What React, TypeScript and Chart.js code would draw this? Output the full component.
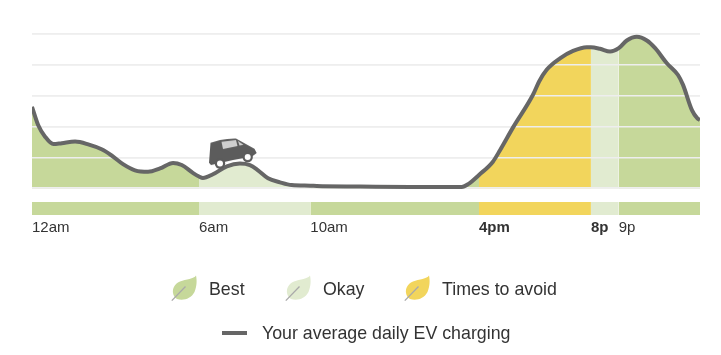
import React, { useEffect, useRef } from "react";
import { Chart, registerables } from "chart.js";

Chart.register(...registerables);

// Data
const hours = [0, 0.22, 0.47, 0.77, 1.07, 1.55, 2.02, 2.5, 2.86, 3.27, 3.7, 4.17, 4.6, 5.07, 5.38, 5.79, 6, 6.14, 6.5, 7, 7.47, 7.83, 8.12, 8.48, 8.91, 9.33, 10, 10.23, 11.79, 13.58, 15.44, 15.67, 16.06, 16.56, 16.82, 17.29, 18.0, 18.22, 18.49, 18.97, 19.44, 19.93, 20.08, 20.41, 20.77, 21.08, 21.37, 21.73, 22.09, 22.39, 22.81, 23.21, 23.39, 23.71, 23.9, 24];
const charging = [2.64, 2.05, 1.67, 1.43, 1.46, 1.51, 1.42, 1.26, 1.06, 0.78, 0.58, 0.53, 0.64, 0.82, 0.75, 0.49, 0.38, 0.33, 0.45, 0.71, 0.8, 0.75, 0.58, 0.32, 0.19, 0.1, 0.08, 0.07, 0.055, 0.04, 0.04, 0.13, 0.43, 0.86, 1.24, 1.98, 3.03, 3.46, 3.84, 4.21, 4.45, 4.57, 4.57, 4.52, 4.43, 4.54, 4.79, 4.91, 4.79, 4.54, 4.05, 3.67, 3.35, 2.53, 2.27, 2.21];
const zoneStarts = [0, 6, 10, 16.06, 20.08, 21.08];
const zoneEnds = [6, 10, 16.06, 20.08, 21.08, 24];
const zoneKinds = ["best", "okay", "best", "avoid", "okay", "best"];
const tickHours = [0, 6, 10, 16.06, 20.08, 21.08];
const tickLabels = ["12am", "6am", "10am", "4pm", "8p", "9p"];
const tickBold = [false, false, false, true, true, false];
const gridValues = [0, 1, 2, 3, 4, 5];
const carHour = [7.22];
const carValue = [1.14];
const legendLabels = ["Best", "Okay", "Times to avoid"];
const legendKinds = ["best", "okay", "avoid"];
const lineLabel = "Your average daily EV charging";

// Styles
const COLORS: Record<string, string> = { best: "#c6d89a", okay: "#e1ebd0", avoid: "#f2d55c" };
const LINE = "#666666";
const TEXT = "#333333";
const FONT = '"Liberation Sans", Arial, sans-serif';
const Y_MIN = -0.87;
const BAND_TOP = -0.45;
const leafLefts = [171, 285, 404];
const textLefts = [209, 323, 442];

function makeCar() {
  const c = document.createElement("canvas");
  c.width = 56;
  c.height = 36;
  const g = c.getContext("2d")!;
  g.translate(-205, -135);
  g.fillStyle = "#5c5c5c";
  g.beginPath();
  g.moveTo(210.5, 142.7);
  g.lineTo(220, 140);
  g.quadraticCurveTo(228, 138.2, 236, 138.4);
  g.lineTo(254.5, 148.8);
  g.lineTo(256.7, 153);
  g.lineTo(252, 156.5);
  g.lineTo(233, 160);
  g.lineTo(211, 165);
  g.lineTo(209, 162.7);
  g.closePath();
  g.fill();
  g.fillStyle = "#cfcfcf";
  g.beginPath();
  g.moveTo(221.5, 141.7);
  g.lineTo(236, 140);
  g.lineTo(237.5, 146);
  g.lineTo(223, 149);
  g.closePath();
  g.fill();
  g.beginPath();
  g.moveTo(238, 141);
  g.lineTo(243.5, 144.8);
  g.lineTo(239.5, 145.5);
  g.closePath();
  g.fill();
  for (const [x, y] of [[220, 163.5], [247.7, 157]]) {
    g.fillStyle = "#5c5c5c";
    g.beginPath();
    g.arc(x, y, 5.2, 0, Math.PI * 2);
    g.fill();
    g.fillStyle = "#ffffff";
    g.beginPath();
    g.arc(x, y, 3, 0, Math.PI * 2);
    g.fill();
  }
  return c;
}

const gridOverFill = {
  id: "gridOverFill",
  beforeDatasetDraw(chart: any, args: any) {
    if (args.index === 1) chart.scales.y.drawGrid(chart.chartArea);
  },
};

function Leaf({ color, left }: { color: string; left: number }) {
  return (
    <svg width="27" height="27" viewBox="0 0 27 27" style={{ position: "absolute", left, top: 275 }}>
      <path d="M25 0.5 C23 4 15 4 9 6.5 C3 9 1.5 14 2 18 C2.5 21 4 23 6 24 C12 26 20 24 23.5 17 C26 11 26 5 25 0.5Z" fill={color} />
      <path d="M0.8 25.6 L14.5 11.5" stroke="#a9a9a9" strokeWidth="1.3" fill="none" />
    </svg>
  );
}

export default function App() {
  const ref = useRef<HTMLCanvasElement>(null);

  useEffect(() => {
    const points = hours.map((x, i) => ({ x, y: charging[i] }));
    const areas = zoneStarts.map((s, i) => ({
      type: "line" as const,
      data: points.filter((p) => p.x >= s && p.x <= zoneEnds[i]),
      borderWidth: 0,
      pointRadius: 0,
      cubicInterpolationMode: "monotone",
      fill: "origin",
      backgroundColor: COLORS[zoneKinds[i]],
    }));
    const bands = zoneStarts.map((s, i) => ({
      type: "line" as const,
      data: [{ x: s, y: BAND_TOP }, { x: zoneEnds[i], y: BAND_TOP }],
      borderWidth: 0,
      pointRadius: 0,
      fill: { value: Y_MIN },
      backgroundColor: COLORS[zoneKinds[i]],
    }));
    const chart = new Chart(ref.current!, {
      type: "line",
      data: {
        datasets: [
          {
            label: "Car",
            data: [{ x: carHour[0], y: carValue[0] }],
            pointStyle: makeCar(),
            pointRadius: 10,
            showLine: false,
            clip: false,
          },
          {
            label: lineLabel,
            data: points,
            borderColor: LINE,
            borderWidth: 4,
            pointRadius: 0,
            cubicInterpolationMode: "monotone",
            fill: false,
            clip: 0,
          },
          ...areas,
          ...bands,
        ] as any,
      },
      options: {
        responsive: false,
        animation: false,
        layout: { padding: { left: 32, right: 21, top: 34, bottom: 0 } },
        plugins: { legend: { display: false }, tooltip: { enabled: false } },
        scales: {
          x: {
            type: "linear",
            min: 0,
            max: 24,
            afterBuildTicks: (s: any) => {
              s.ticks = tickHours.map((value) => ({ value }));
            },
            afterFit: (s: any) => {
              s.height = 140;
            },
            grid: { display: false, drawTicks: false },
            border: { display: false },
            ticks: {
              autoSkip: false,
              maxRotation: 0,
              align: "start",
              padding: 4,
              color: TEXT,
              font: (c: any) => ({ family: FONT, size: 15, weight: tickBold[c.index] ? "bold" : "normal" }),
              callback: (_v: any, i: number) => tickLabels[i],
            },
          },
          y: {
            min: Y_MIN,
            max: 5,
            afterBuildTicks: (s: any) => {
              s.ticks = gridValues.map((value) => ({ value }));
            },
            grid: { color: "#eeeeee", lineWidth: 1.5, drawTicks: false },
            border: { display: false },
            ticks: { display: false },
          },
        },
      } as any,
      plugins: [gridOverFill],
    });
    return () => chart.destroy();
  }, []);

  const textStyle = { position: "absolute", fontFamily: FONT, fontSize: 17.8, color: TEXT, lineHeight: "20px", whiteSpace: "nowrap" } as const;

  return (
    <div style={{ position: "absolute", left: 0, top: 0, width: 721, height: 355, overflow: "hidden", background: "#fff" }}>
      <canvas ref={ref} width={721} height={355} style={{ position: "absolute", left: 0, top: 0 }} />
      {legendLabels.map((t, i) => (
        <React.Fragment key={t}>
          <Leaf color={COLORS[legendKinds[i]]} left={leafLefts[i]} />
          <span style={{ ...textStyle, left: textLefts[i], top: 279 }}>{t}</span>
        </React.Fragment>
      ))}
      <div style={{ position: "absolute", left: 222, top: 331, width: 25, height: 4, background: LINE }} />
      <span style={{ ...textStyle, left: 262, top: 323 }}>{lineLabel}</span>
    </div>
  );
}
